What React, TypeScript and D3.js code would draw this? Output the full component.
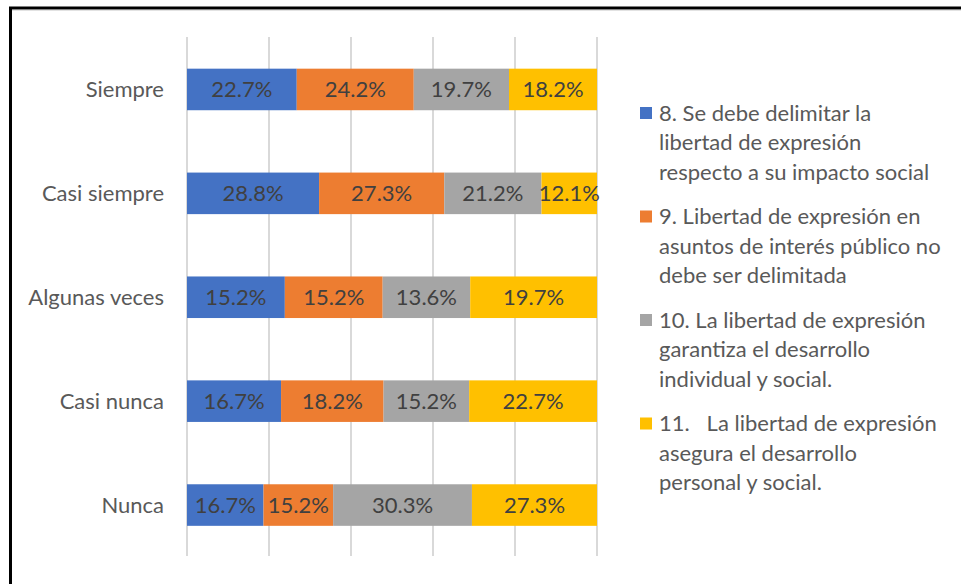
import React from 'react';
import * as d3 from 'd3';

const categories = ['Siempre', 'Casi siempre', 'Algunas veces', 'Casi nunca', 'Nunca'];
const seriesNames = [
  ['8. Se debe delimitar la', 'libertad de expresión', 'respecto a su impacto social'],
  ['9. Libertad de expresión en', 'asuntos de interés público no', 'debe ser delimitada'],
  ['10. La libertad de expresión', 'garantiza el desarrollo', 'individual y social.'],
  ['11.   La libertad de expresión', 'asegura el desarrollo', 'personal y social.'],
];
const q8 = [22.7, 28.8, 15.2, 16.7, 16.7];
const q9 = [24.2, 27.3, 15.2, 18.2, 15.2];
const q10 = [19.7, 21.2, 13.6, 15.2, 30.3];
const q11 = [18.2, 12.1, 19.7, 22.7, 27.3];
const colors = ['#4472C4', '#ED7D31', '#A5A5A5', '#FFC000'];

const W = 961;
const H = 584;
const font = 'Lato, "Open Sans", sans-serif';
const fs = 22;

export default function App() {
  const keys = ['q8', 'q9', 'q10', 'q11'];
  const rows = categories.map((c, i) => ({ cat: c, q8: q8[i], q9: q9[i], q10: q10[i], q11: q11[i] }));
  // 100% stacked: each row normalised to its own total
  const stacked = d3.stack<any>().keys(keys).offset(d3.stackOffsetExpand)(rows);

  const x = d3.scaleLinear().domain([0, 1]).range([187, 597]);
  const y = d3.scaleBand().domain(categories).range([37.5, 557]).paddingInner(0.6).paddingOuter(0.3);
  const ticks = d3.range(0, 1.0001, 0.2);

  return (
    <svg width={W} height={H} style={{ position: 'absolute', left: 0, top: 0, background: '#fff' }}>
      <rect x={0} y={0} width={W} height={H} fill="#fff" />
      {/* frame */}
      <line x1={10.5} y1={8} x2={10.5} y2={H} stroke="#000" strokeWidth={3} />
      <line x1={9} y1={8} x2={W} y2={8} stroke="#000" strokeWidth={3} />
      <line x1={12} y1={9.8} x2={W} y2={9.8} stroke="#888" strokeWidth={0.8} />

      {ticks.map((t) => (
        <line key={t} x1={x(t)} x2={x(t)} y1={37} y2={556} stroke="#D9D9D9" strokeWidth={2} />
      ))}

      {stacked.map((s, si) => (
        <g key={s.key}>
          {s.map((d, i) => {
            const x0 = x(d[0]);
            const x1 = x(d[1]);
            const yy = y(categories[i])!;
            const raw = (d.data as any)[s.key] as number;
            return (
              <g key={i}>
                <rect x={x0} y={yy} width={x1 - x0} height={y.bandwidth()} fill={colors[si]} />
                <text
                  x={(x0 + x1) / 2}
                  y={yy + y.bandwidth() / 2}
                  dy="0.35em"
                  textAnchor="middle"
                  fontFamily={font}
                  fontSize={fs}
                  fill="#404040"
                >
                  {raw.toFixed(1)}%
                </text>
              </g>
            );
          })}
        </g>
      ))}

      {categories.map((c) => (
        <text
          key={c}
          x={164}
          y={y(c)! + y.bandwidth() / 2}
          dy="0.35em"
          textAnchor="end"
          fontFamily={font}
          fontSize={fs}
          fill="#595959"
        >
          {c}
        </text>
      ))}

      {seriesNames.map((lines, i) => {
        const top = 113 + i * 103.5;
        return (
          <g key={i}>
            <rect x={640} y={top - 6} width={12} height={12} fill={colors[i]} />
            {lines.map((ln, j) => (
              <text
                key={j}
                x={659}
                y={top + j * 29.5}
                dy="0.35em"
                fontFamily={font}
                fontSize={fs}
                fill="#595959"
                style={{ whiteSpace: 'pre' }}
              >
                {ln}
              </text>
            ))}
          </g>
        );
      })}
    </svg>
  );
}
